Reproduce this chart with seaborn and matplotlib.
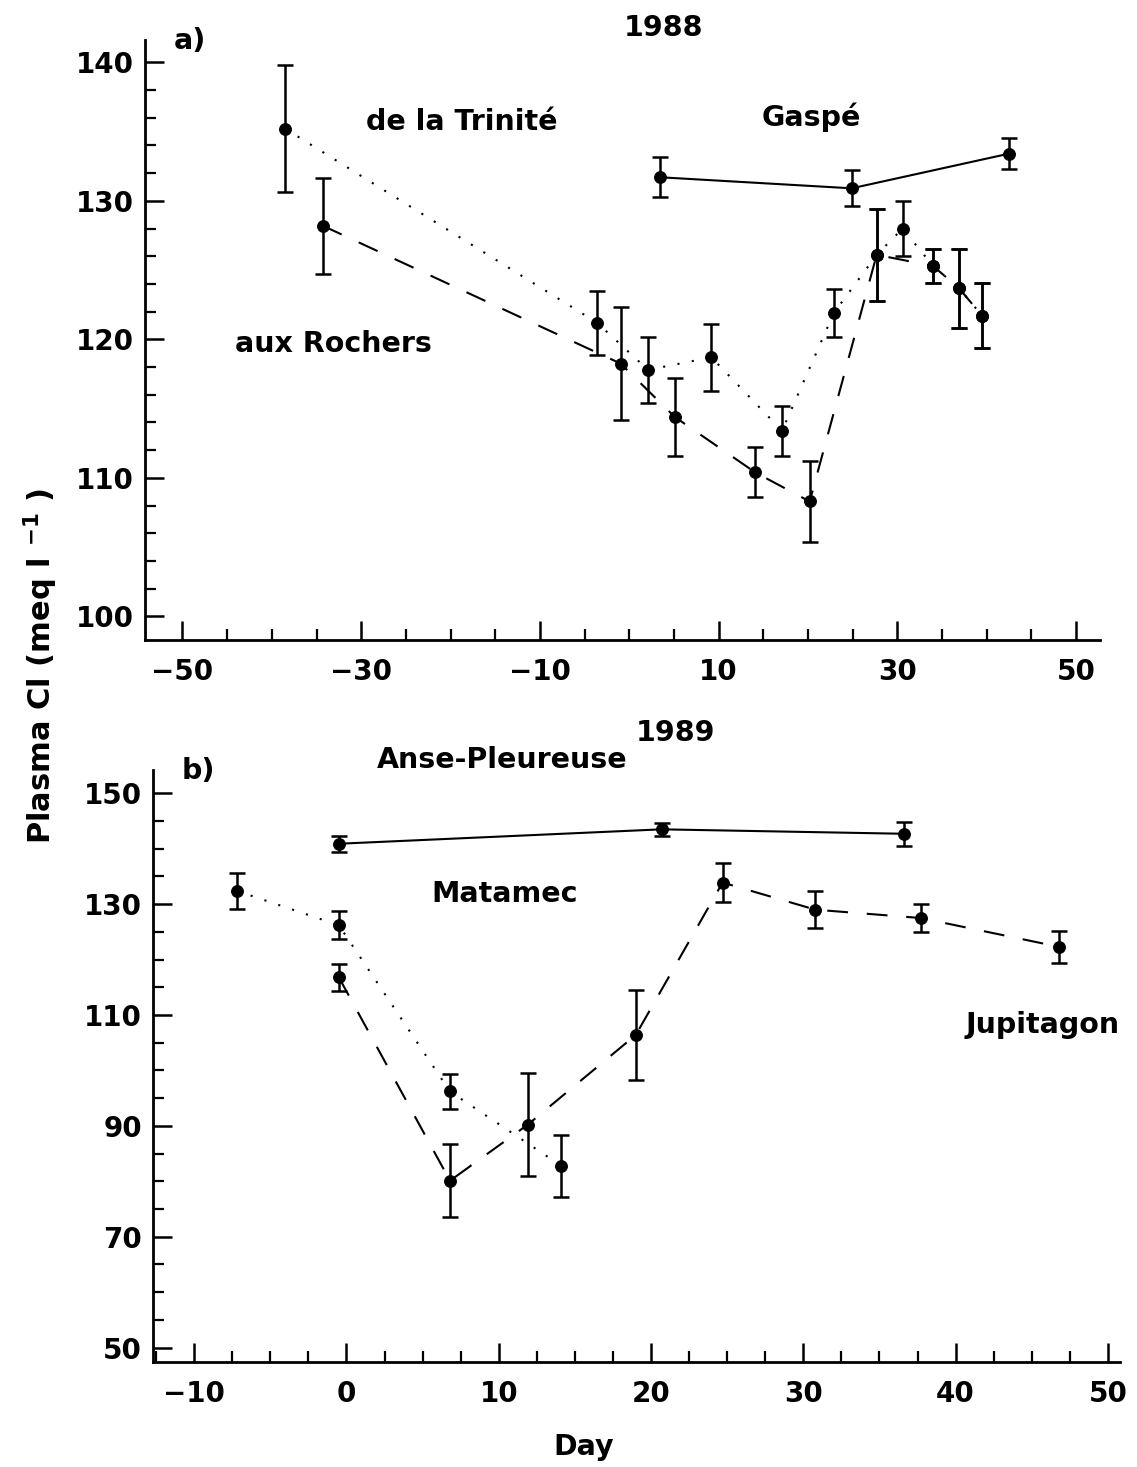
import numpy as np
import pandas as pd
import matplotlib
matplotlib.use("Agg")
import matplotlib.pyplot as plt
import seaborn as sns
from matplotlib.ticker import MultipleLocator, FixedLocator

# ---------------- data: 1988 ----------------
trin_day = [-38.5, -3.6, 2.1, 9.2, 17.1, 22.9, 27.7, 30.6, 34.0, 36.9, 39.5]
trin_cl = [135.2, 121.2, 117.8, 118.7, 113.4, 121.9, 126.1, 128.0, 125.3, 123.7, 121.7]
trin_se = [4.6, 2.3, 2.4, 2.4, 1.8, 1.7, 3.3, 2.0, 1.2, 2.85, 2.35]

roch_day = [-34.3, -0.95, 5.1, 14.1, 20.2, 27.7, 34.0, 36.9, 39.5]
roch_cl = [128.2, 118.25, 114.4, 110.4, 108.3, 126.1, 125.3, 123.7, 121.7]
roch_se = [3.45, 4.1, 2.8, 1.8, 2.9, 3.3, 1.2, 2.85, 2.35]

gaspe_day = [3.4, 24.9, 42.5]
gaspe_cl = [131.7, 130.9, 133.4]
gaspe_se = [1.45, 1.3, 1.1]

# ---------------- data: 1989 ----------------
anse_day = [-0.5, 20.7, 36.6]
anse_cl = [140.9, 143.5, 142.7]
anse_se = [1.4, 1.2, 2.2]

mat_day = [-7.2, -0.5, 6.8, 14.1]
mat_cl = [132.4, 126.2, 96.2, 82.8]
mat_se = [3.2, 2.5, 3.2, 5.6]

jup_day = [-0.5, 6.8, 11.9, 19.0, 24.7, 30.8, 37.7, 46.8]
jup_cl = [116.8, 80.1, 90.2, 106.4, 133.9, 129.0, 127.5, 122.3]
jup_se = [2.4, 6.6, 9.3, 8.1, 3.6, 3.3, 2.6, 2.9]

top_xticks = [-50, -30, -10, 10, 30, 50]
top_yticks = [100, 110, 120, 130, 140]
bot_xticks = [-10, 0, 10, 20, 30, 40, 50]
bot_yticks = [50, 70, 90, 110, 130, 150]

# ---------------- style ----------------
sns.set_theme(style="ticks")
plt.rcParams['font.family'] = ['DejaVu Sans']
plt.rcParams['font.weight'] = 'bold'
plt.rcParams['mathtext.fontset'] = 'dejavusans'
plt.rcParams['mathtext.default'] = 'bf'
for key in ('text.color', 'axes.labelcolor', 'xtick.color', 'ytick.color',
            'axes.edgecolor'):
    plt.rcParams[key] = 'black'

DOT = (0, (1, 6))
DASH = (0, (10, 9))
SOLID = '-'

fig = plt.figure(figsize=(11.37, 14.67), dpi=100)
ax1 = fig.add_axes([0.1275, 0.5637, 0.84, 0.409])
ax2 = fig.add_axes([0.1346, 0.0716, 0.8505, 0.4035])


def draw(ax, day, cl, se, ls):
    df = pd.DataFrame({'day': day, 'cl': cl})
    sns.lineplot(data=df, x='day', y='cl', ax=ax, color='black',
                 linestyle=ls, linewidth=1.5, marker='o', markersize=8.5,
                 markeredgecolor='black', markerfacecolor='black')
    ax.errorbar(day, cl, yerr=se, fmt='none', ecolor='black',
                elinewidth=1.8, capsize=6, capthick=1.8)


draw(ax1, trin_day, trin_cl, trin_se, DOT)
draw(ax1, roch_day, roch_cl, roch_se, DASH)
draw(ax1, gaspe_day, gaspe_cl, gaspe_se, SOLID)

draw(ax2, anse_day, anse_cl, anse_se, SOLID)
draw(ax2, mat_day, mat_cl, mat_se, DOT)
draw(ax2, jup_day, jup_cl, jup_se, DASH)

ax1.set_xlim(-54.2, 52.7)
ax1.set_ylim(98.3, 141.6)
ax1.xaxis.set_major_locator(FixedLocator(top_xticks))
ax1.xaxis.set_minor_locator(MultipleLocator(5))
ax1.yaxis.set_major_locator(FixedLocator(top_yticks))
ax1.yaxis.set_minor_locator(MultipleLocator(2))

ax2.set_xlim(-12.7, 50.8)
ax2.set_ylim(47.4, 154.2)
ax2.xaxis.set_major_locator(FixedLocator(bot_xticks))
ax2.xaxis.set_minor_locator(MultipleLocator(2.5))
ax2.yaxis.set_major_locator(FixedLocator(bot_yticks))
ax2.yaxis.set_minor_locator(MultipleLocator(5))

for ax in (ax1, ax2):
    sns.despine(ax=ax)
    ax.spines['left'].set_linewidth(2)
    ax.spines['bottom'].set_linewidth(2)
    ax.spines['left'].set_color('black')
    ax.spines['bottom'].set_color('black')
    ax.tick_params(which='major', direction='in', length=14, width=1.8,
                   labelsize=20, color='black', labelcolor='black')
    ax.tick_params(which='minor', direction='in', length=8, width=1.6,
                   color='black')
    ax.tick_params(axis='x', which='major', pad=13)
    ax.tick_params(axis='y', which='major', pad=8)
    ax.set_xlabel('')
    ax.set_ylabel('')
    for lab in ax.get_xticklabels() + ax.get_yticklabels():
        lab.set_fontweight('bold')

tk = dict(fontsize=20.5, fontweight='bold', ha='center', va='center',
          color='black', clip_on=False)
ax1.text(3.8, 142.5, '1988', **tk)
ax1.text(-49.2, 141.5, 'a)', **tk)
ax1.text(-18.7, 135.7, 'de la Trinité', **tk)
ax1.text(20.4, 136.0, 'Gaspé', **tk)
ax1.text(-33.1, 119.7, 'aux Rochers', **tk)

ax2.text(21.6, 160.9, '1989', **tk)
ax2.text(-9.7, 154.1, 'b)', **tk)
ax2.text(10.2, 156.0, 'Anse-Pleureuse', **tk)
ax2.text(10.4, 131.9, 'Matamec', **tk)
ax2.text(45.7, 108.2, 'Jupitagon', **tk)

fig.text(0.036, 0.546, r'Plasma Cl (meq l $^{-1}$ )', rotation=90,
         fontsize=22, fontweight='bold', ha='center', va='center',
         color='black')
fig.text(0.513, 0.0136, 'Day', fontsize=20.5, fontweight='bold',
         ha='center', va='center', color='black')

fig.savefig('out.png', dpi=100, facecolor='white')
